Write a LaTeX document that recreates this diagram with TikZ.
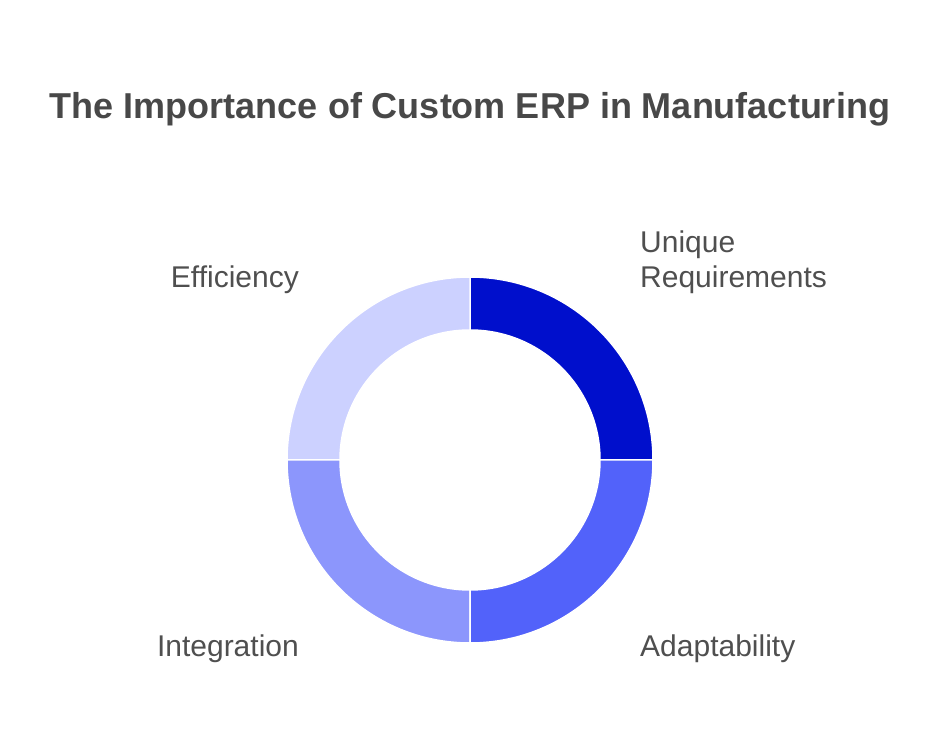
\documentclass[tikz,border=0pt]{standalone}
\usepackage{fontspec}
\setmainfont{Liberation Sans}
\definecolor{uniqcol}{HTML}{000FCC}
\definecolor{adaptcol}{HTML}{5262FA}
\definecolor{integcol}{HTML}{8C96FC}
\definecolor{efficol}{HTML}{CCD1FF}
\definecolor{headcol}{HTML}{484848}
\definecolor{textcol}{HTML}{4F4F4F}
\begin{document}
\begin{tikzpicture}[x=1pt,y=1pt,
                    heading/.style={font=\bfseries\fontsize{36}{40}\selectfont,text=headcol,inner sep=0pt},
                    caption/.style={font=\fontsize{30}{35}\selectfont,text=textcol,inner sep=0pt,align=left},
                    seg/.style={draw=white,line width=1.5pt}]
  \useasboundingbox (0,0) rectangle (940,752);
  \coordinate (ctr) at (470,292);

  % titel
  \node[heading,anchor=base] (title) at (470,633) {The Importance of Custom ERP in Manufacturing};

  % ring: vier kwarten
  \foreach \a/\col in {0/uniqcol,90/efficol,180/integcol,270/adaptcol}
    \filldraw[seg,fill=\col] ([shift={(ctr)}]\a:183) arc[start angle=\a,end angle=\a+90,radius=183]
      -- ([shift={(ctr)}]\a+90:130) arc[start angle=\a+90,end angle=\a,radius=130] -- cycle;

  % labels bij de kwarten
  \node[caption,anchor=base west] (uniq)  at (640,464) {Unique\\Requirements};
  \node[caption,anchor=base east] (effi)  at (299,464) {Efficiency};
  \node[caption,anchor=base east] (integ) at (299,95)  {Integration};
  \node[caption,anchor=base west] (adapt) at (640,95)  {Adaptability};
\end{tikzpicture}
\end{document}
